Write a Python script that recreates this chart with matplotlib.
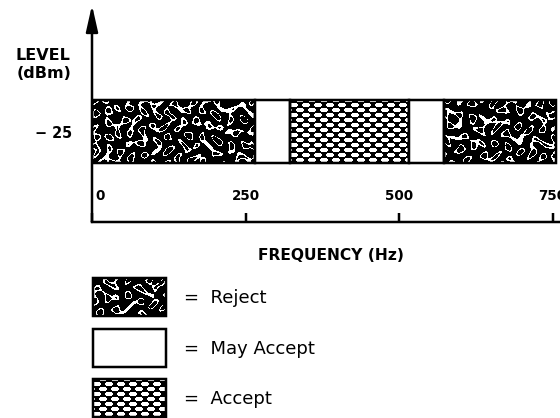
import matplotlib
matplotlib.use("Agg")
import matplotlib.pyplot as plt
import numpy as np
from matplotlib.patches import Rectangle
from matplotlib.transforms import ScaledTranslation

# bands along the -25 dBm level (Hz)
band_starts = [0, 265, 322, 516, 573]
band_ends = [265, 322, 516, 573, 755]
band_kinds = ["Reject", "May Accept", "Accept", "May Accept", "Reject"]
level_dbm = -25
level_labels = ["\u2212 25"]
freq_ticks = [0, 250, 500, 750]
freq_labels = ["0", "250", "500", "750"]
legend_kinds = ["Reject", "May Accept", "Accept"]

W, H, DPI = 560, 418, 100
PT = 72 / DPI  # points per pixel
LW = 2.5 * PT

plt.rcParams["font.family"] = ["DejaVu Sans"]

# wave set for the speckled "reject" texture
WAVE_ANGLES = [0, 26, 52, 77, 103, 129, 154]
WAVE_FREQS = [0.52, 0.46, 0.58, 0.49, 0.55, 0.44, 0.61]
WAVE_PHASES = [0.3, 2.1, 4.4, 1.2, 5.6, 3.3, 0.9]


def texture(kind, w, h, u0=0.0):
    """Black/white fill pattern, w x h pixels (1 = white)."""
    u, v = np.meshgrid(np.arange(w, dtype=float) + u0 + 0.5,
                       np.arange(h, dtype=float) + 0.5)
    if kind == "Reject":
        uu = u + 2.5 * np.sin(0.23 * v)
        vv = v + 2.5 * np.sin(0.19 * u)
        f = np.zeros_like(u)
        for ang, k, ph in zip(WAVE_ANGLES, WAVE_FREQS, WAVE_PHASES):
            t = np.deg2rad(ang)
            f += np.cos(k * (uu * np.cos(t) + vv * np.sin(t)) + ph)
        return (np.abs(f - 1.4) < 0.7).astype(float)
    if kind == "Accept":
        # staggered white ellipses on black (chain-link look)
        white = np.zeros_like(u, dtype=bool)
        for su, sv in ((0, 0), (6, 5)):
            du = np.mod(u + su, 12) - 6
            dv = np.mod(v + sv, 10) - 5
            white |= (du / 3.9) ** 2 + (dv / 2.3) ** 2 < 1
        return white.astype(float)
    return np.ones((h, w))


fig = plt.figure(figsize=(W / DPI, H / DPI), dpi=DPI)
# overlay in pixel units for free texts and the legend
lax = fig.add_axes([0, 0, 1, 1])
lax.set_xlim(0, W)
lax.set_ylim(H, 0)
lax.axis("off")

ax = fig.add_axes([92 / W, 1 - 222 / H, (W - 92) / W, (222 - 5) / H])
xlim, ylim = (0, 762), (-33.62, -12.95)
ax.set_xlim(*xlim)
ax.set_ylim(*ylim)

bar_h = 6
for start, end, kind in zip(band_starts, band_ends, band_kinds):
    textured = kind != "May Accept"
    bars = ax.barh(level_dbm, end - start, left=start, height=bar_h,
                   facecolor="none" if textured else "white",
                   edgecolor="black", linewidth=LW, zorder=3)
    if textured:
        x0, y0 = ax.transData.transform((start, level_dbm - bar_h / 2))
        x1, y1 = ax.transData.transform((end, level_dbm + bar_h / 2))
        tex = texture(kind, int(round(x1 - x0)), int(round(y1 - y0)), u0=x0)
        im = ax.imshow(tex, extent=(start, end, level_dbm - bar_h / 2,
                                    level_dbm + bar_h / 2),
                       aspect="auto", interpolation="nearest", cmap="gray",
                       vmin=0, vmax=1, zorder=2)
        im.set_clip_path(bars.patches[0])
ax.set_xlim(*xlim)
ax.set_ylim(*ylim)

for side in ("top", "right", "left"):
    ax.spines[side].set_visible(False)
ax.spines["bottom"].set_linewidth(LW)

# vertical axis with arrow head
ax.annotate("", xy=(0, 1), xycoords="axes fraction", xytext=(0, 0),
            textcoords="axes fraction", annotation_clip=False,
            arrowprops=dict(arrowstyle="-|>,head_length=1.6,head_width=0.36",
                            mutation_scale=10, lw=LW, color="black",
                            shrinkA=0, shrinkB=0))

ax.set_yticks([level_dbm], labels=level_labels)
ax.tick_params(axis="y", length=0, pad=20 * PT, labelsize=14.5 * PT)
for lab in ax.get_yticklabels():
    lab.set_fontweight("bold")

ax.set_xticks(freq_ticks, labels=freq_labels)
ax.tick_params(axis="x", direction="in", length=9 * PT, width=LW,
               pad=-33 * PT, labelsize=13.5 * PT)
xl = ax.get_xticklabels()
for lab in xl:
    lab.set_fontweight("bold")
xl[0].set_horizontalalignment("left")
xl[0].set_transform(xl[0].get_transform()
                    + ScaledTranslation(3 / DPI, 0, fig.dpi_scale_trans))

lax.text(43, 56, "LEVEL", ha="center", va="center", weight="bold",
         size=16 * PT)
lax.text(44, 74, "(dBm)", ha="center", va="center", weight="bold",
         size=16 * PT)
lax.text(331, 255, "FREQUENCY (Hz)", ha="center", va="center",
         weight="bold", size=15.5 * PT)

# legend
for i, kind in enumerate(legend_kinds):
    top = 278 + 50.5 * i
    bx, bw, bh = 93, 73, 38
    lax.imshow(texture(kind, bw, bh, u0=37 * i),
               extent=(bx, bx + bw, top + bh, top),
               aspect="auto", interpolation="nearest", cmap="gray",
               vmin=0, vmax=1, zorder=2)
    lax.add_patch(Rectangle((bx, top), bw, bh, fill=False,
                            edgecolor="black", linewidth=LW, zorder=3))
    lax.text(184, top + 20, "=  " + kind, ha="left", va="center",
             size=18 * PT)
lax.set_xlim(0, W)
lax.set_ylim(H, 0)

fig.savefig("out.png", dpi=DPI)
